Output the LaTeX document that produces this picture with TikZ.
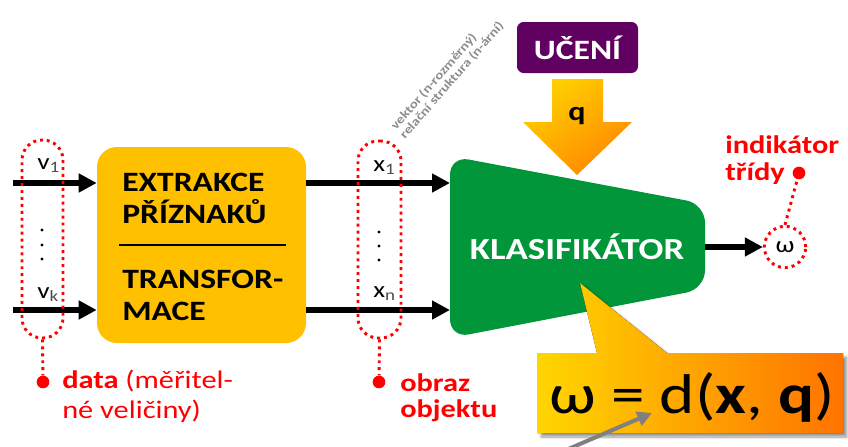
\documentclass[tikz,border=0pt]{standalone}
\usepackage{fontspec}
\setmainfont{Carlito}[FakeStretch=1.2]
\usetikzlibrary{arrows.meta,shadows.blur,calc}
\definecolor{ygold}{RGB}{255,192,0}
\definecolor{kgreen}{RGB}{0,150,57}
\definecolor{upurple}{RGB}{96,0,96}
\definecolor{rred}{RGB}{255,0,0}
\definecolor{cyel}{RGB}{255,214,0}
\definecolor{cora}{RGB}{255,115,0}
\definecolor{ayel}{RGB}{255,208,0}
\definecolor{aora}{RGB}{255,135,0}
\begin{document}
\begin{tikzpicture}[x=0.75pt,y=-0.75pt,
  arr/.style={line width=4.5pt,-{Triangle[length=13.5pt,width=13.5pt]}},
  garr/.style={line width=3pt,black!50,-{Triangle[length=11pt,width=11pt]}},
  reddot/.style={rred,line width=2.2pt,dash pattern=on 2.2pt off 3pt},
  rdot/.style={circle,fill=rred,inner sep=0,minimum size=9.5pt},
  bdot/.style={circle,fill=black,inner sep=0,minimum size=2.6pt},
  grp/.style={reddot,draw,rounded corners=15pt,inner sep=0},
  boxtxt/.style={anchor=base west,inner sep=0,font=\fontsize{21}{24}\selectfont\bfseries},
  rlbl/.style={anchor=base west,inner sep=0,text=rred,font=\fontsize{19}{22}\selectfont},
  vlbl/.style={anchor=base west,inner sep=0,font=\fontsize{17}{20}\selectfont},
  glbl/.style={anchor=base west,inner sep=0,text=black!45,rotate=49,font=\fontsize{9.3}{10}\selectfont\bfseries}
]
\useasboundingbox (0,0) rectangle (848,446);

% yellow block
\node[fill=ygold,rounded corners=15pt,minimum width=156.75pt,minimum height=147pt,inner sep=0] (yb) at (201.5,245) {};
\node[boxtxt] (t1) at (122,191) {EXTRAKCE};
\node[boxtxt] (t2) at (122,223) {PŘÍZNAKŮ};
\node[boxtxt] (t3) at (122,288) {TRANSFOR-};
\node[boxtxt] (t4) at (122,320) {MACE};
\draw[line width=1.5pt] (119,245) -- (286,245);

% green classifier
\fill[kgreen,rounded corners=14pt] (450,156) -- (705,204) -- (705,289) -- (450,338) -- cycle;
\node[text=white,inner sep=0,font=\fontsize{23}{26}\selectfont\bfseries] (kl) at (577,247) {KLASIFIKÁTOR};
\coordinate (g1) at (450,183);
\coordinate (g2) at (450,310);
\coordinate (gout) at (705,247);

% input arrows
\coordinate (i1) at (13,183);
\coordinate (i2) at (13,310);
\draw[arr] (i1) -- (i1 -| yb.west);
\draw[arr] (i2) -- (i2 -| yb.west);
\draw[arr] (yb.east |- g1) -- (g1);
\draw[arr] (yb.east |- g2) -- (g2);

% data group
\node[grp,minimum width=30.75pt,minimum height=148.5pt] (grp1) at (42.5,239) {};
\node[rdot] (rd1) at (43,382) {};
\draw[reddot] (grp1.south) -- (rd1);
\node[vlbl] (v1) at (37,169) {v\textsubscript{\color{black!70}1}};
\node[vlbl] (vk) at (37,298) {v\textsubscript{\color{black!70}k}};
\node[bdot] (a1) at (42,230) {};
\node[bdot] (a2) at (42,245) {};
\node[bdot] (a3) at (42,259) {};
\node[rlbl] (dl1) at (62,388) {\textbf{data} (měřitel-};
\node[rlbl] (dl2) at (62,418) {né veličiny)};

% feature group
\node[grp,minimum width=32.25pt,minimum height=147.75pt] (grp2) at (379.5,239.5) {};
\node[rdot] (rd2) at (379,382) {};
\draw[reddot] (grp2.south) -- (rd2);
\node[vlbl] (x1) at (373,171) {x\textsubscript{\color{black!70}1}};
\node[vlbl] (xn) at (373,297) {x\textsubscript{\color{black!70}n}};
\node[bdot] (b1) at (379,232) {};
\node[bdot] (b2) at (379,246) {};
\node[bdot] (b3) at (379,260) {};
\node[rlbl,font=\fontsize{19}{22}\selectfont\bfseries] (ol1) at (400,391) {obraz};
\node[rlbl,font=\fontsize{19}{22}\selectfont\bfseries] (ol2) at (400,417) {objektu};
\node[glbl] (gt1) at (396,131) {vektor (n-rozměrný)};
\node[glbl] (gt2) at (405,140) {relační struktura (n-ární)};

% output
\node[circle,reddot,draw,minimum size=31pt,inner sep=0,text=black,font=\fontsize{17}{20}\selectfont] (om) at (785,247) {ω};
\draw[arr] (gout) -- (om.west);
\node[rdot] (rd3) at (799,173) {};
\draw[reddot] (om.north) -- (rd3);
\node[rlbl,font=\fontsize{19}{22}\selectfont\bfseries] (il1) at (725,153) {indikátor};
\node[rlbl,font=\fontsize{19}{22}\selectfont\bfseries] (il2) at (725,180) {třídy};

% learning
\node[fill=upurple,rounded corners=5pt,minimum width=90.75pt,minimum height=38.25pt,text=white,font=\fontsize{21}{24}\selectfont\bfseries] (uc) at (577.5,47.5) {UČENÍ};
\shade[top color=ayel,bottom color=aora,shading angle=35] (552,79) -- (603,79) -- (603,122) -- (632,122) -- (577,175) -- (523,122) -- (552,122) -- cycle;
\node[anchor=base,inner sep=0,font=\fontsize{20}{22}\selectfont\bfseries] (q) at (577,120) {q};

% callout
\fill[blur shadow={shadow xshift=3pt,shadow yshift=-3pt,shadow blur steps=8,shadow opacity=40},left color=cyel,right color=cora] (537,353) -- (597,353) -- (580,283) -- (667,353) -- (843,353) -- (843,433) -- (537,433) -- cycle;
\node[anchor=base,inner sep=0,font=\fontsize{42}{48}\selectfont] (fm) at (692,413) {ω = d(\textbf{x}, \textbf{q})};
\coordinate (gs) at (566,450);
\coordinate (gtip) at (652,413);
\draw[garr] (gs) -- (gtip);
\end{tikzpicture}
\end{document}
